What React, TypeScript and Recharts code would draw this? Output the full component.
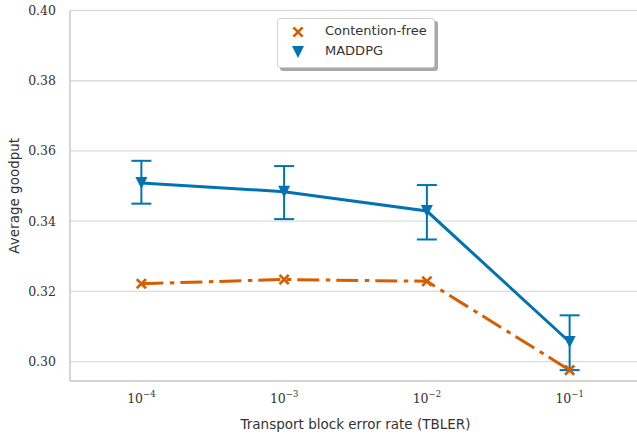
import { LineChart, Line, XAxis, YAxis, CartesianGrid, ErrorBar } from 'recharts';

const tblerExponents = ['−4', '−3', '−2', '−1'];
const maddpg = [0.3509, 0.3484, 0.3429, 0.3056];
const maddpgLow = [0.345, 0.3406, 0.3348, 0.2976];
const maddpgHigh = [0.3572, 0.3557, 0.3503, 0.3132];
const contentionFree = [0.3222, 0.3234, 0.3229, 0.2976];
const yTicks = [0.3, 0.32, 0.34, 0.36, 0.38, 0.4];

const BLUE = '#0173b2';
const ORANGE = '#d55e00';

const data = tblerExponents.map((e, i) => ({
  x: i,
  maddpg: maddpg[i],
  maddpgErr: [maddpg[i] - maddpgLow[i], maddpgHigh[i] - maddpg[i]],
  cf: contentionFree[i],
}));

const TriangleDot = (props: any) => {
  const { cx, cy, index } = props;
  if (cx == null || cy == null) return null;
  const s = 6;
  return (
    <path
      key={`tri-${index}`}
      d={`M${cx - s},${cy - s} L${cx + s},${cy - s} L${cx},${cy + s} Z`}
      fill={BLUE}
    />
  );
};

const CrossDot = (props: any) => {
  const { cx, cy, index } = props;
  if (cx == null || cy == null) return null;
  const s = 4.6;
  return (
    <path
      key={`x-${index}`}
      d={`M${cx - s},${cy - s} L${cx + s},${cy + s} M${cx - s},${cy + s} L${cx + s},${cy - s}`}
      stroke={ORANGE}
      strokeWidth={2.7}
      fill="none"
    />
  );
};

const XTick = (props: any) => {
  const { x, y, payload } = props;
  return (
    <text x={x} y={y + 4} textAnchor="middle" fontFamily="'DejaVu Serif', serif" fill="#333" fontSize={12.5}>
      <tspan>10</tspan>
      <tspan dy={-6} fontSize={8.5}>{tblerExponents[payload.value]}</tspan>
    </text>
  );
};

const LegendBox = () => (
  <div
    style={{
      position: 'absolute',
      left: 277,
      top: 18,
      width: 156,
      height: 48,
      background: '#fff',
      border: '1px solid #d0d0d0',
      borderRadius: 3,
      boxShadow: '3px 3px 0 #a8a8a8',
      fontFamily: "'DejaVu Sans', sans-serif",
      fontSize: 13,
      color: '#333',
    }}
  >
    <svg width={30} height={48} style={{ position: 'absolute', left: 10, top: 0 }}>
      <CrossDot cx={10} cy={13} index={0} />
      <TriangleDot cx={10} cy={33} index={1} />
    </svg>
    <div style={{ position: 'absolute', left: 47, top: 4 }}>Contention-free</div>
    <div style={{ position: 'absolute', left: 47, top: 24 }}>MADDPG</div>
  </div>
);

export default function App() {
  return (
    <div style={{ position: 'absolute', left: 0, top: 0, width: 637, height: 436, overflow: 'hidden', background: '#fff' }}>
      <LineChart width={645} height={436} data={data} margin={{ top: 10.5, right: 4, left: 0, bottom: 0 }}>
        <CartesianGrid vertical={false} stroke="#dcdcdc" strokeWidth={1.3} />
        <XAxis
          type="number"
          dataKey="x"
          domain={[-0.5, 3.5]}
          ticks={[0, 1, 2, 3]}
          height={55}
          tickLine={false}
          tickSize={0}
          tickMargin={18}
          axisLine={{ stroke: '#cccccc', strokeWidth: 1.6 }}
          tick={<XTick />}
          label={{
            value: 'Transport block error rate (TBLER)',
            position: 'insideBottom',
            offset: 7,
            fill: '#333',
            fontSize: 13.5,
            fontFamily: "'DejaVu Sans', sans-serif",
          }}
        />
        <YAxis
          type="number"
          domain={[0.2945, 0.4]}
          ticks={yTicks}
          width={70}
          tickLine={false}
          tickSize={0}
          tickMargin={14}
          axisLine={{ stroke: '#cccccc', strokeWidth: 1.6 }}
          tickFormatter={(v: number) => v.toFixed(2)}
          tick={{ fill: '#333', fontSize: 12.5, fontFamily: "'DejaVu Serif', serif" }}
          allowDataOverflow
          label={{
            value: 'Average goodput',
            angle: -90,
            position: 'insideLeft',
            offset: 14,
            fill: '#333',
            fontSize: 13.5,
            fontFamily: "'DejaVu Sans', sans-serif",
            style: { textAnchor: 'middle' },
          }}
        />
        <Line
          dataKey="cf"
          stroke={ORANGE}
          strokeWidth={3}
          strokeDasharray="22 6.5 4.5 6"
          strokeLinecap="butt"
          dot={<CrossDot />}
          isAnimationActive={false}
        />
        <Line
          dataKey="maddpg"
          stroke={BLUE}
          strokeWidth={3}
          dot={<TriangleDot />}
          isAnimationActive={false}
        >
          <ErrorBar dataKey="maddpgErr" direction="y" width={10} stroke={BLUE} strokeWidth={2} />
        </Line>
      </LineChart>
      <LegendBox />
    </div>
  );
}
